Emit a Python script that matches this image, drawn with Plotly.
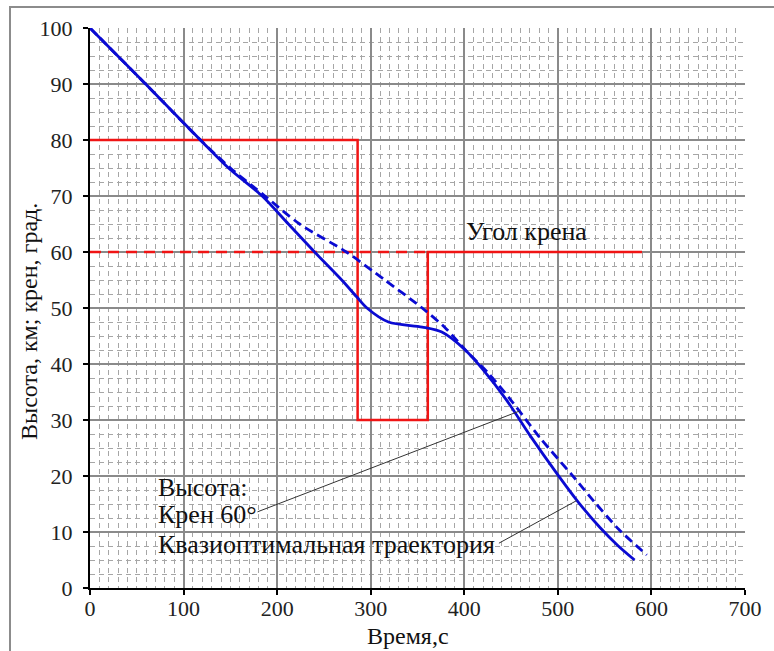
import plotly.graph_objects as go

# ---- data ----
t_opt = [0, 60, 118, 148, 184, 212, 240, 269, 285, 296, 319, 355, 376, 401, 420, 445, 470, 500, 522, 545, 564, 582]
h_opt = [100, 89.9, 80, 75, 70, 65, 60, 55, 52, 50, 47.5, 46.6, 45.7, 42.5, 39, 33.6, 27.3, 20.2, 15.3, 10.8, 7.6, 5]

t_60 = [0, 60, 118, 150, 187, 224, 274, 315, 355, 380, 404, 425, 451, 480, 515, 540, 565, 595]
h_60 = [100, 89.9, 80, 75, 70, 65, 60, 55, 50, 46.4, 42, 38.5, 33.3, 27, 20.2, 15.2, 10.5, 5.9]

bank_t = [0, 286, 286, 361, 361, 590]
bank_v = [80, 80, 30, 30, 60, 60]

bank60_t = [0, 361]
bank60_v = [60, 60]

x_ticks = [0, 100, 200, 300, 400, 500, 600, 700]
y_ticks = [0, 10, 20, 30, 40, 50, 60, 70, 80, 90, 100]

label_bank = "Угол крена"
label_lines = ["Высота:", "Крен 60°", "Квазиоптимальная траектория"]
label_pos_t = [71.0, 71.0, 71.0]
label_pos_h = [18.0, 13.1, 7.7]
leader1 = [(179, 13.6), (459, 31.6)]
leader2 = [(437, 8.0), (520, 15.6)]

SERIF = "Liberation Serif"
BLUE = "#0a0ad2"
RED = "#f01414"

fig = go.Figure()
fig.add_trace(go.Scatter(x=bank_t, y=bank_v, mode="lines",
                         line=dict(color=RED, width=2.5), showlegend=False))
fig.add_trace(go.Scatter(x=bank60_t, y=bank60_v, mode="lines",
                         line=dict(color=RED, width=2.5, dash="11px,7px"), showlegend=False))
fig.add_trace(go.Scatter(x=t_60, y=h_60, mode="lines", line_shape="spline",
                         line=dict(color=BLUE, width=2.8, dash="9px,5px", smoothing=0.8),
                         showlegend=False))
fig.add_trace(go.Scatter(x=t_opt, y=h_opt, mode="lines", line_shape="spline",
                         line=dict(color=BLUE, width=2.8, smoothing=0.8), showlegend=False))

for (p0, p1) in (leader1, leader2):
    fig.add_shape(type="line", xref="x", yref="y", x0=p0[0], y0=p0[1], x1=p1[0], y1=p1[1],
                  line=dict(color="#333333", width=1))

fig.add_annotation(x=400, y=63.6, text=label_bank, showarrow=False, xanchor="left",
                   yanchor="middle", font=dict(family=SERIF, size=26, color="#111111"))
for txt, tx, ty in zip(label_lines, label_pos_t, label_pos_h):
    fig.add_annotation(x=tx, y=ty, text=txt, showarrow=False, xanchor="left",
                       yanchor="middle", font=dict(family=SERIF, size=26, color="#111111"))

# axis titles
fig.add_annotation(xref="paper", yref="paper", x=(408 - 90) / 655, y=(588 - 636) / 560,
                   text="Время,с", showarrow=False, xanchor="center", yanchor="middle",
                   font=dict(family=SERIF, size=24, color="#111111"))
fig.add_annotation(xref="paper", yref="paper", x=(29 - 90) / 655, y=(588 - 322) / 560,
                   text="Высота, км; крен, град.", showarrow=False, textangle=-90,
                   xanchor="center", yanchor="middle",
                   font=dict(family=SERIF, size=24, color="#111111"))

# outer border
fig.add_shape(type="rect", xref="paper", yref="paper",
              x0=(10 - 90) / 655, x1=(790 - 90) / 655,
              y0=(588 - 670) / 560, y1=(588 - 7) / 560,
              line=dict(color="#8c8c8c", width=2), layer="below")

axis_common = dict(
    showline=True, linecolor="black", linewidth=2,
    ticks="outside", ticklen=5, tickwidth=2, tickcolor="black",
    showgrid=True, gridcolor="#8a8a8a", gridwidth=1.5,
    zeroline=False,
    tickfont=dict(family=SERIF, size=22, color="#222222"),
)

fig.update_xaxes(range=[0, 700], tickvals=x_ticks, ticktext=[str(v) for v in x_ticks],
                 minor=dict(dtick=10, showgrid=True, gridcolor="#a6a6a6", gridwidth=1.4,
                            griddash="5px,4px", ticks=""),
                 ticklabelstandoff=-5, **axis_common)
fig.update_yaxes(range=[0, 100], tickvals=y_ticks, ticktext=[str(v) for v in y_ticks],
                 minor=dict(dtick=2.5, showgrid=True, gridcolor="#a6a6a6", gridwidth=1.4,
                            griddash="5px,4px", ticks=""),
                 ticklabelstandoff=6, **axis_common)

fig.update_layout(
    width=774, height=651,
    margin=dict(l=90, r=29, t=28, b=63),
    paper_bgcolor="white", plot_bgcolor="white",
    font=dict(family=SERIF),
)

fig.write_html("out.html")
